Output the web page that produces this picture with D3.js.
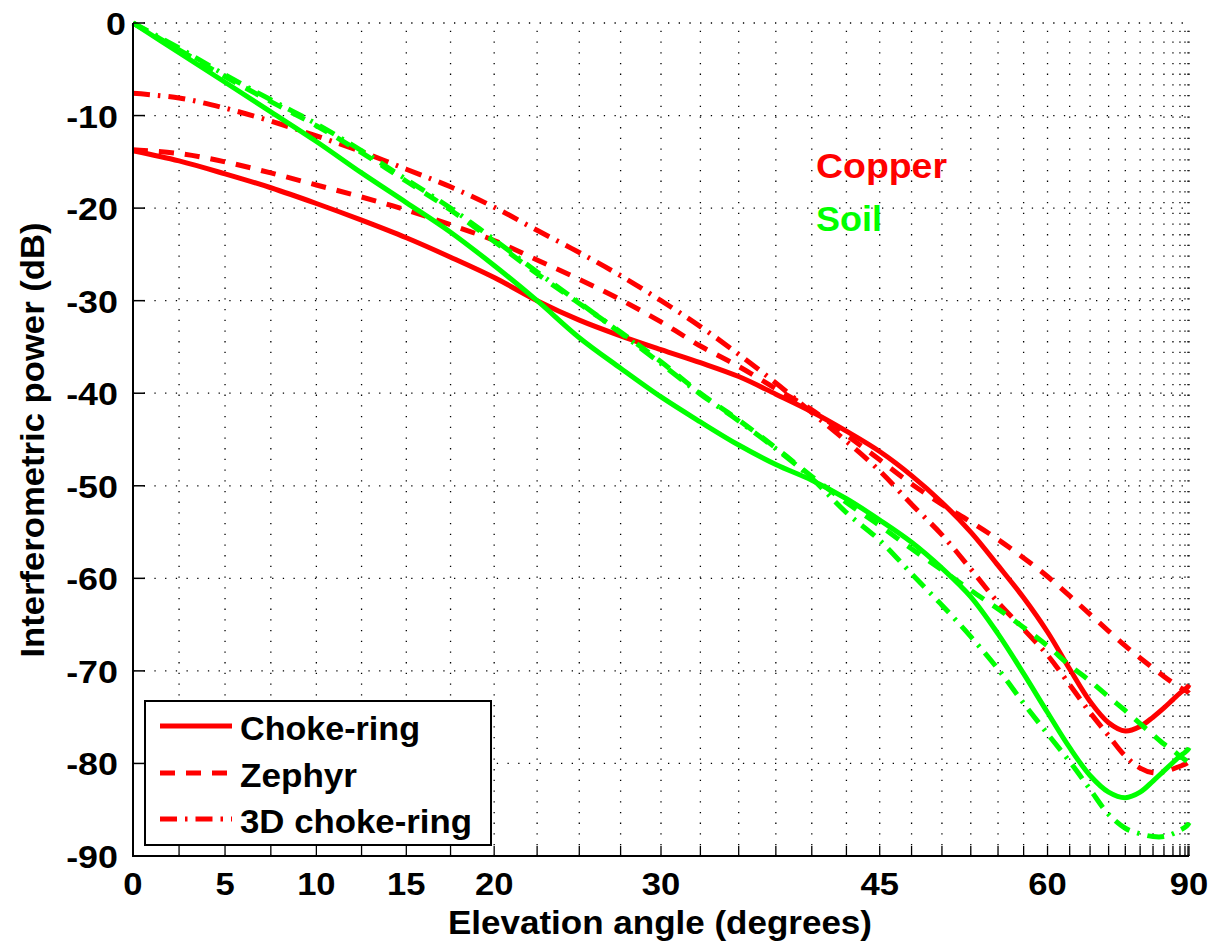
<!DOCTYPE html>
<html>
<head>
<meta charset="utf-8">
<script src="https://cdn.jsdelivr.net/npm/d3@7"></script>
<style>
  html, body { margin: 0; padding: 0; background: #fff; }
  svg { display: block; }
  text { font-family: "Liberation Sans", Arial, Helvetica, sans-serif; font-weight: bold; fill: #000; }
</style>
</head>
<body>
<svg id="chart" width="1217" height="947"></svg>
<script>
// ---------------- data ----------------
const elevation = [0,2.5,5,7.5,10,12.5,15,17.5,20,22.5,25,27.5,30,32.5,35,37.5,40,42.5,45,47.5,50,52.5,55,57.5,60,62.5,65,67.5,70,72.5,75,77.5,80,82.5,85,87.5,90];

const copperChokeRing = [-13.8,-14.9,-16.3,-17.8,-19.5,-21.3,-23.2,-25.3,-27.5,-30.0,-32.1,-33.8,-35.3,-36.7,-38.2,-40.1,-42.0,-44.1,-46.3,-48.9,-51.8,-55.0,-58.6,-62.1,-65.8,-69.8,-73.3,-75.6,-76.5,-76.0,-75.0,-74.0,-73.1,-72.4,-72.0,-71.7,-71.5];
const copperZephyr    = [-13.7,-14.1,-15.0,-16.2,-17.5,-18.8,-20.2,-21.8,-23.5,-25.6,-27.7,-29.9,-32.3,-34.9,-37.1,-39.5,-41.8,-44.5,-47.2,-49.8,-52.0,-53.9,-55.8,-57.8,-59.8,-61.9,-63.9,-65.7,-67.3,-68.6,-69.7,-70.6,-71.3,-71.8,-72.1,-72.3,-72.4];
const copper3DChoke   = [-7.6,-8.1,-9.2,-10.6,-12.2,-13.9,-15.8,-17.7,-19.9,-22.4,-24.8,-27.3,-30.0,-32.8,-35.8,-38.9,-42.1,-45.2,-48.4,-52.0,-55.3,-59.0,-62.6,-65.5,-68.3,-71.5,-74.5,-77.0,-79.2,-80.5,-81.0,-80.9,-80.6,-80.3,-80.1,-79.9,-79.8];

const soilChokeRing   = [0,-3.2,-6.4,-9.6,-12.8,-16.2,-19.4,-22.6,-26.2,-30.0,-34.0,-37.3,-40.4,-43.1,-45.6,-47.7,-49.4,-51.4,-53.7,-56.1,-58.9,-62.0,-66.0,-70.3,-74.5,-78.3,-81.3,-83.1,-83.7,-83.1,-81.9,-80.8,-79.9,-79.2,-78.8,-78.5,-78.3];
const soilZephyr      = [0,-2.9,-5.8,-8.5,-11.1,-14.0,-17.1,-20.2,-23.6,-27.1,-30.3,-33.4,-36.6,-40.0,-42.9,-45.9,-49.0,-51.8,-54.3,-56.8,-59.1,-61.3,-63.3,-65.3,-67.3,-69.4,-71.1,-72.8,-74.3,-75.7,-76.9,-77.9,-78.6,-79.2,-79.6,-79.9,-80.1];
const soil3DChoke     = [0,-2.7,-5.6,-8.3,-10.9,-13.8,-16.9,-20.0,-23.4,-26.9,-30.2,-33.5,-36.8,-40.1,-43.0,-46.0,-49.2,-52.9,-55.9,-59.5,-62.9,-66.3,-69.8,-73.5,-76.8,-79.8,-82.8,-85.5,-87.0,-87.6,-87.9,-87.9,-87.6,-87.2,-86.9,-86.6,-86.4];

const xTickLabels = [0,5,10,15,20,30,45,60,90];
const xMinorTicks = d3.range(0, 90.001, 2.5);
const yTicks = [0,-10,-20,-30,-40,-50,-60,-70,-80,-90];

const legendLabels = ["Choke-ring","Zephyr","3D choke-ring"];
const materialLabels = ["Copper","Soil"];

// ---------------- layout / style ----------------
const RED = "#ff0000", GREEN = "#00ff00";
const dashes = { solid: null, dashed: "15,11", dashdot: "17,8,2.5,8" };

const series = [
  { values: copperChokeRing, color: RED,   dash: dashes.solid },
  { values: copperZephyr,    color: RED,   dash: dashes.dashed },
  { values: copper3DChoke,   color: RED,   dash: dashes.dashdot },
  { values: soilChokeRing,   color: GREEN, dash: dashes.solid },
  { values: soilZephyr,      color: GREEN, dash: dashes.dashed },
  { values: soil3DChoke,     color: GREEN, dash: dashes.dashdot }
];

const L = 133, R = 1189, T = 23, B = 856;
const svg = d3.select("#chart");

// x axis is linear in sin(elevation)
const xs = d3.scaleLinear().domain([0, 1]).range([L, R]);
const x = deg => xs(Math.sin(deg * Math.PI / 180));
const y = d3.scaleLinear().domain([-90, 0]).range([B, T]);

function stretch(sel, k) {
  sel.each(function () {
    const w = this.getComputedTextLength();
    d3.select(this).attr("textLength", w * k).attr("lengthAdjust", "spacingAndGlyphs");
  });
}
function fitTo(sel, target) {
  sel.attr("textLength", target).attr("lengthAdjust", "spacingAndGlyphs");
}

// ---------------- grid ----------------
const grid = svg.append("g").attr("stroke", "#000").attr("stroke-width", 1.3)
  .attr("stroke-dasharray", "1.3,9.4").attr("fill", "none");
grid.selectAll("line.v").data(xMinorTicks.filter(d => d > 0)).join("line")
  .attr("class", "v")
  .attr("x1", d => x(d)).attr("x2", d => x(d))
  .attr("y1", B).attr("y2", T);
grid.selectAll("line.h").data(yTicks.filter(d => d > -90)).join("line")
  .attr("class", "h")
  .attr("x1", L).attr("x2", R)
  .attr("y1", d => y(d)).attr("y2", d => y(d));

// ---------------- curves ----------------
const line = d3.line()
  .x(d => x(d[0]))
  .y(d => y(d[1]))
  .curve(d3.curveCatmullRom.alpha(0.5));

svg.append("g").selectAll("path").data(series).join("path")
  .attr("d", s => line(elevation.map((e, i) => [e, s.values[i]])))
  .attr("fill", "none")
  .attr("stroke", s => s.color)
  .attr("stroke-width", 5)
  .attr("stroke-linejoin", "round")
  .attr("stroke-dasharray", s => s.dash);

// ---------------- axes ----------------
const axes = svg.append("g").attr("stroke", "#000").attr("fill", "none");
axes.append("line").attr("x1", L).attr("x2", L).attr("y1", T).attr("y2", B).attr("stroke-width", 2);
axes.append("line").attr("x1", L - 1).attr("x2", R).attr("y1", B).attr("y2", B).attr("stroke-width", 2);

axes.selectAll("line.xt").data(xMinorTicks.filter(d => d > 0)).join("line")
  .attr("class", "xt").attr("stroke-width", 1.3)
  .attr("x1", d => x(d)).attr("x2", d => x(d))
  .attr("y1", B).attr("y2", B - 10);
axes.selectAll("line.yt").data(yTicks.filter(d => d > -90)).join("line")
  .attr("class", "yt").attr("stroke-width", 1.5)
  .attr("x1", L).attr("x2", L + 12)
  .attr("y1", d => y(d)).attr("y2", d => y(d));

// tick labels
const xl = svg.append("g").selectAll("text").data(xTickLabels).join("text")
  .attr("x", d => x(d)).attr("y", 895)
  .attr("text-anchor", "middle").attr("font-size", 32)
  .text(d => d);
stretch(xl, 1.08);

const yl = svg.append("g").selectAll("text").data(yTicks).join("text")
  .attr("x", d => d === 0 ? 126 : 118)
  .attr("y", d => y(d) + 12)
  .attr("text-anchor", "end").attr("font-size", 32)
  .text(d => d);
stretch(yl, 1.12);

// axis titles
const xt = svg.append("text").attr("x", 660).attr("y", 934)
  .attr("text-anchor", "middle").attr("font-size", 33)
  .text("Elevation angle (degrees)");
fitTo(xt, 424);

const yt = svg.append("text")
  .attr("transform", "translate(44,440) rotate(-90)")
  .attr("text-anchor", "middle").attr("font-size", 34)
  .text("Interferometric power (dB)");
fitTo(yt, 435);

// material labels
const mat = svg.append("g").selectAll("text").data(materialLabels).join("text")
  .attr("x", 816).attr("y", (d, i) => i === 0 ? 178 : 231)
  .attr("font-size", 35)
  .style("fill", (d, i) => i === 0 ? RED : GREEN)
  .text(d => d);
mat.each(function (d, i) { fitTo(d3.select(this), i === 0 ? 131 : 66); });

// ---------------- legend ----------------
const lg = svg.append("g");
lg.append("rect").attr("x", 145).attr("y", 701).attr("width", 346).attr("height", 144)
  .attr("fill", "#fff").attr("stroke", "#000").attr("stroke-width", 2);
const rowsY = [726, 773, 819];
const legendDash = [dashes.solid, dashes.dashed, dashes.dashdot];
const legendWidths = [180, 117, 232];
lg.selectAll("line").data(legendLabels).join("line")
  .attr("x1", 160).attr("x2", 232)
  .attr("y1", (d, i) => rowsY[i]).attr("y2", (d, i) => rowsY[i])
  .attr("stroke", RED).attr("stroke-width", 5)
  .attr("stroke-dasharray", (d, i) => legendDash[i]);
const lt = lg.selectAll("text").data(legendLabels).join("text")
  .attr("x", 240).attr("y", (d, i) => rowsY[i] + 14)
  .attr("font-size", 34)
  .text(d => d);
lt.each(function (d, i) { fitTo(d3.select(this), legendWidths[i]); });
</script>
</body>
</html>
